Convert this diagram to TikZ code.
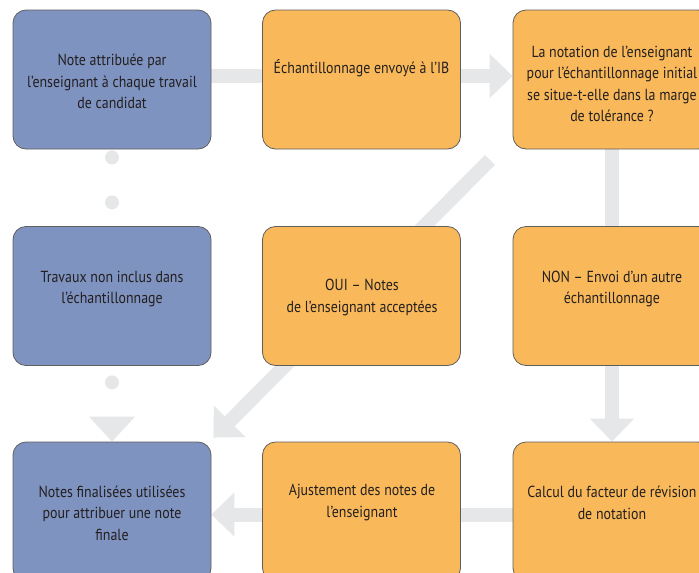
\documentclass[tikz,border=0pt]{standalone}
\usepackage{fontspec}
\setmainfont{PT Sans}[FakeStretch=0.87]
\usetikzlibrary{arrows.meta}
\pgfdeclarelayer{bg}
\pgfsetlayers{bg,main}
\definecolor{boxblue}{HTML}{7F93C0}
\definecolor{boxorange}{HTML}{F9B95A}
\definecolor{boxedge}{HTML}{5E5E5E}
\definecolor{conncol}{HTML}{E6E7E9}
\definecolor{txt}{HTML}{231F20}
\begin{document}
\begin{tikzpicture}[x=1pt,y=-1pt,
  box/.style={draw=boxedge, line width=0.8pt, rounded corners=13pt, minimum width=198pt, minimum height=139pt, inner sep=0pt},
  bluebox/.style={box, fill=boxblue},
  orbox/.style={box, fill=boxorange},
  lbl/.style={text=txt, align=center, font=\fontsize{16}{21.5}\selectfont, inner sep=0pt},
  connector/.style={draw=conncol, line width=14pt, -{Triangle[length=23pt, width=43pt]}},
  dotline/.style={draw=conncol, line width=14pt, line cap=round, dash pattern=on 0pt off 45pt}]
\useasboundingbox (0,0) rectangle (699,573);
% boxes
\node[bluebox] (b11) at (112,79.5) {};
\node[orbox]   (b12) at (361.5,79.5) {};
\node[orbox]   (b13) at (612,79.5) {};
\node[bluebox] (b21) at (112,296) {};
\node[orbox]   (b22) at (361.5,296) {};
\node[orbox]   (b23) at (612,296) {};
\node[bluebox] (b31) at (112,511.5) {};
\node[orbox]   (b32) at (361.5,511.5) {};
\node[orbox]   (b33) at (612,511.5) {};
% texts
\node[lbl] (t11) at (112,81.5) {Note attribuée par\\l’enseignant à chaque travail\\de candidat};
\node[lbl] (t12) at (361.5,68) {Échantillonnage envoyé à l’IB};
\node[lbl] (t13) at (612,84) {La notation de l’enseignant\\pour l’échantillonnage initial\\se situe-t-elle dans la marge\\de tolérance ?};
\node[lbl] (t21) at (112,289) {Travaux non inclus dans\\l’échantillonnage};
\node[lbl] (t22) at (362,297.5) {OUI – Notes\\de l’enseignant acceptées};
\node[lbl] (t23) at (612,289) {NON – Envoi d’un autre\\échantillonnage};
\node[lbl] (t31) at (112,513) {Notes finalisées utilisées\\pour attribuer une note\\finale};
\node[lbl] (t32) at (362,502.5) {Ajustement des notes de\\l’enseignant};
\node[lbl] (t33) at (612,503) {Calcul du facteur de révision\\de notation};
% connectors
\begin{pgfonlayer}{bg}
\fill[white] (0,0) rectangle (699,573);
\draw[connector] ([yshift=3.5pt]b11.east) -- ([yshift=3.5pt]b13.west);
\draw[connector] (b13.south) -- (b33.north);
\draw[connector] ([yshift=-3pt]b33.west) -- ([yshift=-3pt]b31.east);
\coordinate (dstart) at (490,160);
\draw[connector] (dstart) -- ([xshift=2pt,yshift=4pt]b31.north east);
\draw[dotline] ([yshift=-8pt]b11.south) -- ([yshift=-8pt]b31.north);
\fill[conncol] (b31.north) -- ++(-23,-25) -- ++(46,0) -- cycle;
\end{pgfonlayer}
\end{tikzpicture}
\end{document}
